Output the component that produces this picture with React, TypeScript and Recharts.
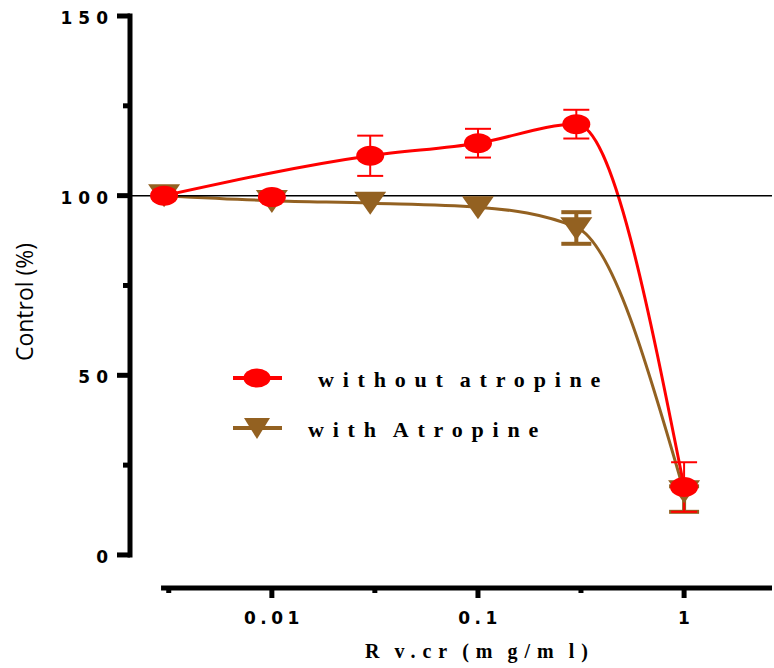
import { LineChart, Line, XAxis, YAxis, ReferenceLine, ErrorBar, Legend } from "recharts";

// concentration (mg/ml), log axis
const DOSES = [0.003, 0.01, 0.03, 0.1, 0.3, 1];

const WITHOUT_ATROPINE = [100, 99.6, 111.1, 114.6, 119.9, 18.9];
const WITHOUT_ATROPINE_ERR = [null, null, 5.6, 4, 4, 6.9];
// the drawn curve skips the 0.01 point
const WITHOUT_ATROPINE_CURVE = [100, null, 111.1, 114.6, 119.9, 18.9];

const WITH_ATROPINE = [100, 98.4, 97.9, 96.6, 90.8, 17.6];
const WITH_ATROPINE_ERR = [null, null, null, null, [4.2, 4.6], [5.6, 1.5]];
const WITH_ATROPINE_CURVE = [100, 98.6, 97.9, 96.8, 91.2, 17.6];

const X_TICKS = [0.00316, 0.01, 0.0316, 0.1, 0.316, 1];
const X_MAJOR = [0.01, 0.1, 1];
const Y_TICKS = [0, 25, 50, 75, 100, 125, 150];
const Y_MAJOR = [0, 50, 100, 150];

const XMIN = 0.00205;
const XMAX = 2.67;
const X_AXIS_START = 0.0029; // x axis is drawn detached from the y axis
const Y_FLOOR = -9.2;

const RED = "#ff0000";
const BROWN = "#936121";

const SERIES = [
  { key: "without", label: "without atropine", color: RED, textX: 90 },
  { key: "with", label: "with Atropine", color: BROWN, textX: 80 },
];

const data = DOSES.map((d, i) => ({
  dose: d,
  without: WITHOUT_ATROPINE[i],
  withoutErr: WITHOUT_ATROPINE_ERR[i],
  withoutCurve: WITHOUT_ATROPINE_CURVE[i],
  with: WITH_ATROPINE[i],
  withErr: WITH_ATROPINE_ERR[i],
  withCurve: WITH_ATROPINE_CURVE[i],
}));

const tickFont = { fontFamily: "DejaVu Sans", fontWeight: 700, fontSize: 17 };
const serifFont = { fontFamily: "Liberation Serif", fontWeight: 700 };

// spaced-out text with tighter gaps between words than a real space would give
function spaced(text: string, gap: number) {
  return text.split(" ").map((w, i) => (
    <tspan key={i} dx={i ? gap : 0}>{w}</tspan>
  ));
}

function YTick({ x, y, payload }: any) {
  const major = Y_MAJOR.includes(payload.value);
  const len = major ? 13 : 7;
  return (
    <g>
      <line x1={x - len} x2={x} y1={y} y2={y} stroke="#000" strokeWidth={5} />
      {major && (
        <text x={x - 16} y={y + 8} textAnchor="end" fill="#000" letterSpacing={6} {...tickFont}>
          {payload.value}
        </text>
      )}
    </g>
  );
}

function XTick({ x, y, payload }: any) {
  const major = X_MAJOR.includes(payload.value);
  return (
    <g>
      <line x1={x} x2={x} y1={y} y2={y + (major ? 10 : 5)} stroke="#000" strokeWidth={5} />
      {major && (
        <text x={x + 2} y={y + 36} textAnchor="middle" fill="#000" letterSpacing={4.5} {...tickFont}>
          {String(payload.value)}
        </text>
      )}
    </g>
  );
}

function Circle({ cx, cy, value, index }: any) {
  if (value == null) return <g key={`c${index}`} />;
  return <ellipse key={`c${index}`} cx={cx} cy={cy} rx={14} ry={10} fill={RED} />;
}

function DownTriangle({ cx, cy, value, index }: any) {
  if (value == null) return <g key={`t${index}`} />;
  return (
    <polygon
      key={`t${index}`}
      points={`${cx - 16},${cy - 11.5} ${cx + 16},${cy - 11.5} ${cx},${cy + 11.5}`}
      fill={BROWN}
    />
  );
}

function renderLegend() {
  return (
    <svg width={420} height={95}>
      {SERIES.map((s, i) => {
        const cy = 18 + i * 50;
        return (
          <g key={s.key}>
            <line x1={5} x2={54} y1={cy} y2={cy} stroke={s.color} strokeWidth={4} />
            {s.key === "without" ? (
              <ellipse cx={29} cy={cy} rx={13.5} ry={9.5} fill={s.color} />
            ) : (
              <polygon points={`16,${cy - 10} 42,${cy - 10} 29,${cy + 11}`} fill={s.color} />
            )}
            <text x={s.textX} y={cy + 9} fontSize={22} letterSpacing={8.8} fill="#000" {...serifFont}>
              {spaced(s.label, 8)}
            </text>
          </g>
        );
      })}
    </svg>
  );
}

function YTitle({ viewBox }: any) {
  const x = viewBox.x + 24;
  const y = viewBox.y + viewBox.height / 2;
  return (
    <text x={x} y={y} transform={`rotate(-90 ${x} ${y})`} textAnchor="middle" dominantBaseline="central"
      fontFamily="Open Sans" fontSize={23} fill="#000">
      Control (%)
    </text>
  );
}

function XTitle({ viewBox }: any) {
  return (
    <text x={viewBox.x + viewBox.width / 2 + 29} y={viewBox.y + 70} textAnchor="middle" fontSize={20}
      letterSpacing={7} fill="#000" {...serifFont}>
      {spaced("R v.cr (m g/m l)", 8)}
    </text>
  );
}

export default function App() {
  return (
    <div style={{ position: "absolute", left: 0, top: 0 }}>
      <LineChart width={774} height={668} data={data} margin={{ top: 16, right: 2, bottom: 0, left: 0 }}>
        <XAxis
          dataKey="dose"
          type="number"
          scale="log"
          domain={[XMIN, XMAX]}
          allowDataOverflow
          ticks={X_TICKS}
          interval={0}
          axisLine={false}
          tickLine={false}
          tickSize={0}
          tickMargin={0}
          height={80}
          tick={<XTick />}
          label={{ content: XTitle }}
        />
        <YAxis
          type="number"
          domain={[Y_FLOOR, 150]}
          allowDataOverflow
          ticks={Y_TICKS}
          interval={0}
          axisLine={false}
          tickLine={false}
          tickSize={0}
          tickMargin={0}
          width={130}
          tick={<YTick />}
          label={{ content: YTitle }}
        />
        <Legend
          layout="horizontal"
          verticalAlign="middle"
          align="center"
          content={renderLegend}
          wrapperStyle={{ left: 228, top: 360, width: 420, height: 95 }}
        />

        <Line dataKey="withCurve" type="monotone" stroke={BROWN} strokeWidth={3} dot={false} activeDot={false}
          connectNulls legendType="none" isAnimationActive={false} />
        <Line dataKey="with" stroke="none" strokeWidth={0} dot={DownTriangle} activeDot={false}
          legendType="none" isAnimationActive={false}>
          <ErrorBar dataKey="withErr" width={15} stroke={BROWN} strokeWidth={4} direction="y" />
        </Line>

        <Line dataKey="withoutCurve" type="monotone" stroke={RED} strokeWidth={3} dot={false} activeDot={false}
          connectNulls legendType="none" isAnimationActive={false} />
        <Line dataKey="without" stroke="none" strokeWidth={0} dot={Circle} activeDot={false}
          legendType="none" isAnimationActive={false}>
          <ErrorBar dataKey="withoutErr" width={13} stroke={RED} strokeWidth={2} direction="y" />
        </Line>

        <ReferenceLine y={100} stroke="#000" strokeWidth={1.5} />
        <ReferenceLine
          segment={[{ x: XMIN, y: 0 }, { x: XMIN, y: 150 }]}
          stroke="#000"
          strokeWidth={5}
          strokeLinecap="square"
          ifOverflow="visible"
        />
        <ReferenceLine
          segment={[{ x: X_AXIS_START, y: Y_FLOOR }, { x: XMAX, y: Y_FLOOR }]}
          stroke="#000"
          strokeWidth={5}
          ifOverflow="visible"
        />
      </LineChart>
    </div>
  );
}
